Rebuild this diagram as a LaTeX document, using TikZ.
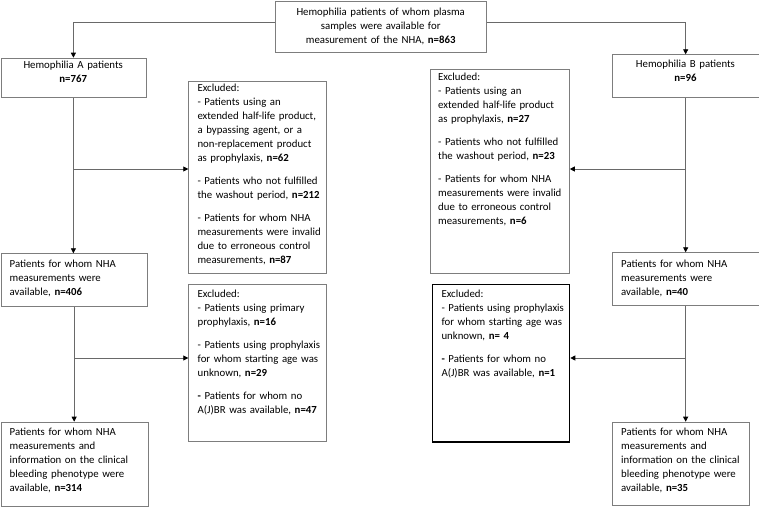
\documentclass[tikz,border=0pt]{standalone}
\usepackage{fontspec}
\setmainfont{Carlito}
\usepackage{xcolor}
\usepackage{tikz}
\usetikzlibrary{arrows.meta,positioning,calc}
\definecolor{boxgray}{RGB}{125,125,125}
\definecolor{linegray}{RGB}{105,105,105}

\begin{document}
\begin{tikzpicture}[
    x=1pt, y=-1pt,
    frame/.style={rectangle, draw=boxgray, line width=0.8pt, anchor=north west, inner sep=0pt},
    txt/.style={anchor=north west, align=left, inner sep=0pt, text width=160pt, text height=8pt,
                font=\fontsize{10.8pt}{14pt}\selectfont},
    txtc/.style={txt, align=center},
    arrow/.style={-{Triangle[length=5pt,width=5pt,color=black]}, draw=linegray, line width=0.8pt}
]
\useasboundingbox (0,0) rectangle (759,506);

% Top box
\node[frame, minimum width=211pt, minimum height=51pt] (tot) at (275,0.5) {};
\node[txtc, text width=211pt] (totT) at (275,7.5)
  {Hemophilia patients of whom plasma\\samples were available for\\measurement of the NHA, \textbf{n=863}};

% Hemophilia A column
\node[frame, minimum width=145pt, minimum height=39.3pt] (hemA) at (0.5,57.7) {};
\node[txtc, text width=145pt] (hemAT) at (0.5,60) {Hemophilia A patients\\\textbf{n=767}};

\node[frame, minimum width=146.5pt, minimum height=52.4pt] (nhaA) at (0.5,253.3) {};
\node[txt] (nhaAT) at (9.5,259.4) {Patients for whom NHA\\measurements were\\available, \textbf{n=406}};

\node[frame, minimum width=147.2pt, minimum height=83.8pt] (finA) at (0.5,421.7) {};
\node[txt] (finAT) at (9.5,427.7)
  {Patients for whom NHA\\measurements and\\information on the clinical\\bleeding phenotype were\\available, \textbf{n=314}};

\node[frame, minimum width=137.7pt, minimum height=192pt] (exA1) at (188.3,81.3) {};
\node[txt] (exA1T) at (197.3,83)
  {Excluded:\\- Patients using an\\extended half-life product,\\a bypassing agent, or a\\non-replacement product\\as prophylaxis, \textbf{n=62}\\[9pt]
   - Patients who not fulfilled\\the washout period, \textbf{n=212}\\[9pt]
   - Patients for whom NHA\\measurements were invalid\\due to erroneous control\\measurements, \textbf{n=87}};

\node[frame, minimum width=137.7pt, minimum height=157.3pt] (exA2) at (188.3,284) {};
\node[txt] (exA2T) at (197.5,289.5)
  {Excluded:\\- Patients using primary\\prophylaxis, \textbf{n=16}\\[9pt]
   - Patients using prophylaxis\\for whom starting age was\\unknown, \textbf{n=29}\\[9pt]
   \textbf{-} Patients for whom no\\A(J)BR was available, \textbf{n=47}};

% Hemophilia B column
\node[frame, minimum width=146.5pt, minimum height=42.4pt] (hemB) at (612,54.3) {};
\node[txtc, text width=146.5pt] (hemBT) at (612,59.5) {Hemophilia B patients\\\textbf{n=96}};

\node[frame, minimum width=146.5pt, minimum height=52.7pt] (nhaB) at (612,252.3) {};
\node[txt] (nhaBT) at (621,259.4) {Patients for whom NHA\\measurements were\\available, \textbf{n=40}};

\node[frame, minimum width=137.3pt, minimum height=83.3pt] (finB) at (612,421.7) {};
\node[txt] (finBT) at (621,427.7)
  {Patients for whom NHA\\measurements and\\information on the clinical\\bleeding phenotype were\\available, \textbf{n=35}};

\node[frame, minimum width=139pt, minimum height=204pt] (exB1) at (430,69.3) {};
\node[txt] (exB1T) at (438,72)
  {Excluded:\\- Patients using an\\extended half-life product\\as prophylaxis, \textbf{n=27}\\[9pt]
   - Patients who not fulfilled\\the washout period, \textbf{n=23}\\[9pt]
   - Patients for whom NHA\\measurements were invalid\\due to erroneous control\\measurements, \textbf{n=6}};

\node[frame, draw=black, line width=1.3pt, minimum width=137pt, minimum height=157.3pt] (exB2) at (432,284) {};
\node[txt] (exB2T) at (441.3,289.5)
  {Excluded:\\- Patients using prophylaxis\\for whom starting age was\\unknown, \textbf{n= 4}\\[9pt]
   \textbf{-} Patients for whom no\\A(J)BR was available, \textbf{n=1}};

% Junctions
\coordinate (jA1) at (hemA.south |- 0,169);
\coordinate (jA2) at (nhaA.south |- 0,358);
\coordinate (jB1) at (hemB.south |- 0,169);
\coordinate (jB2) at (nhaB.south |- 0,358);

% Connectors
\draw[arrow] ([yshift=4pt]tot.west) -| (hemA.north);
\draw[arrow] ([yshift=4pt]tot.east) -| (hemB.north);

\draw[arrow] (hemA.south) -- (hemA.south |- nhaA.north);
\draw[arrow] (jA1) -- (jA1 -| exA1.west);
\draw[arrow] (nhaA.south) -- (nhaA.south |- finA.north);
\draw[arrow] (jA2) -- (jA2 -| exA2.west);

\draw[arrow] (hemB.south) -- (hemB.south |- nhaB.north);
\draw[arrow] (jB1) -- (jB1 -| exB1.east);
\draw[arrow] (nhaB.south) -- (nhaB.south |- finB.north);
\draw[arrow] (jB2) -- (jB2 -| exB2.east);

\end{tikzpicture}
\end{document}
